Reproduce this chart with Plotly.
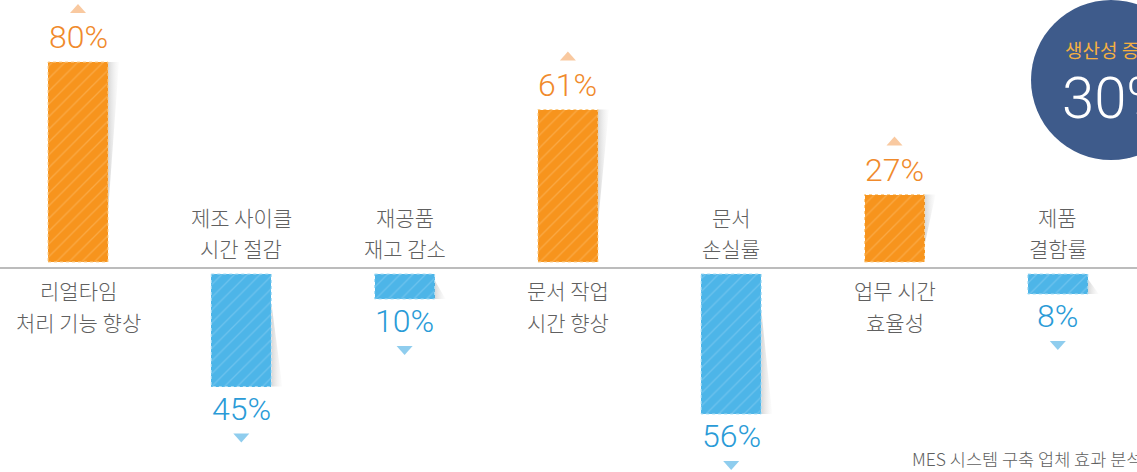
import plotly.graph_objects as go

# ---------------- data ----------------
categories = [
    "리얼타임\n처리 기능 향상",
    "제조 사이클\n시간 절감",
    "재공품\n재고 감소",
    "문서 작업\n시간 향상",
    "문서\n손실률",
    "업무 시간\n효율성",
    "제품\n결함률",
]
change_pct = [80, -45, -10, 61, -56, 27, -8]   # + = increase, - = decrease
highlight_label = "생산성 증가"
highlight_value = "30%"
source_text = "MES 시스템 구축 업체 효과 분석"

# ---------------- styles ----------------
ORANGE = "#F7941D"
ORANGE_HATCH = "#FAA944"
ORANGE_TEXT = "#F08A2C"
ORANGE_TRI = "#F9C9A0"
ORANGE_DOT = "#FCD08F"
BLUE = "#4DB5E8"
BLUE_HATCH = "#6CC2EE"
BLUE_TEXT = "#2A9BD7"
BLUE_TRI = "#8FCDEE"
BLUE_DOT = "#A7DDF5"
GREY_TEXT = "#606060"
CIRCLE = "#3E5B8B"

W, H = 1137, 472
PX_X = 163.3          # pixels per category
X0_PX = 78            # pixel of first category centre
PX_Y = 2.5            # pixels per percent
BASE_PX = 268         # pixel row of the baseline
BAR_W = 60 / PX_X
GAP = 6 / PX_Y        # gap between baseline and bar

x_range = [-X0_PX / PX_X, (W - X0_PX) / PX_X]
y_range = [-(H - BASE_PX) / PX_Y, BASE_PX / PX_Y]

xs = list(range(len(categories)))
pos = [v > 0 for v in change_pct]
bases = [GAP if p else -GAP for p in pos]
ends = [b + v for b, v in zip(bases, change_pct)]

fig = go.Figure()

# shadows (folded-paper effect) at far end of each bar
sh_w = 11 / PX_X
for x, v, b, e, p in zip(xs, change_pct, bases, ends, pos):
    xr = x + BAR_W / 2
    tail = e - 0.75 * v
    fig.add_trace(go.Scatter(
        x=[xr, xr + sh_w, xr, xr], y=[e, e, tail, e],
        mode="lines", fill="toself", line=dict(width=0),
        fillgradient=dict(type="horizontal",
                          colorscale=[[0, "rgba(120,120,120,0.30)"], [1, "rgba(200,200,200,0.04)"]]),
        hoverinfo="skip", showlegend=False))

for is_pos, col, hatch in [(True, ORANGE, ORANGE_HATCH), (False, BLUE, BLUE_HATCH)]:
    sel = [i for i, p in enumerate(pos) if p == is_pos]
    fig.add_trace(go.Bar(
        x=[xs[i] for i in sel], y=[change_pct[i] for i in sel], base=[bases[i] for i in sel],
        width=BAR_W,
        marker=dict(color=col, line=dict(width=0),
                    pattern=dict(shape="/", size=9, solidity=0.15, fgcolor=hatch,
                                 bgcolor=col, fgopacity=1, fillmode="overlay")),
        hoverinfo="skip", showlegend=False))

shapes = []
annotations = []

# baseline
shapes.append(dict(type="line", xref="paper", yref="y", x0=0, x1=1, y0=0, y1=0,
                   line=dict(color="#A6A6A6", width=1.5), layer="above"))

for x, v, b, e, p, cat in zip(xs, change_pct, bases, ends, pos, categories):
    # dotted border
    shapes.append(dict(type="rect", xref="x", yref="y", x0=x - BAR_W / 2, x1=x + BAR_W / 2,
                       y0=b, y1=e, line=dict(color=ORANGE_DOT if p else BLUE_DOT, width=1, dash="dot"),
                       layer="above"))
    # value labels
    annotations.append(dict(x=x, y=e, xref="x", yref="y", text=f"{abs(v)}%",
                            showarrow=False, yanchor="middle", yshift=25 if p else -22,
                            font=dict(family="Roboto, Noto Sans CJK KR", size=32, weight=300,
                                      color=ORANGE_TEXT if p else BLUE_TEXT)))
    # triangles
    if p:
        path = "M -8 49 L 8 49 L 0 58 Z"
    else:
        path = "M -8 -47 L 8 -47 L 0 -56 Z"
    shapes.append(dict(type="path", xref="x", yref="y", xsizemode="pixel", ysizemode="pixel",
                       xanchor=x, yanchor=e, path=path,
                       fillcolor=ORANGE_TRI if p else BLUE_TRI, line=dict(width=0)))
    # category labels
    lines = cat.split("\n")
    shifts = [-22, -54] if p else [51, 20]
    for ln, s in zip(lines, shifts):
        annotations.append(dict(x=x, y=0, xref="x", yref="y", text=ln, showarrow=False,
                                yanchor="middle", yshift=s,
                                font=dict(family="Noto Sans CJK KR", size=21, weight=300,
                                          color=GREY_TEXT)))

# highlight circle
shapes.append(dict(type="circle", xref="paper", yref="paper", xsizemode="pixel", ysizemode="pixel",
                   xanchor=1111 / W, yanchor=1 - 80 / H, x0=-80, x1=80, y0=-80, y1=80,
                   fillcolor=CIRCLE, line=dict(width=0), layer="above"))
annotations.append(dict(x=1063 / W, y=1 - 49 / H, xref="paper", yref="paper", text=highlight_label,
                        showarrow=False, xanchor="left", yanchor="middle",
                        font=dict(family="Noto Sans CJK KR", size=19, color="#F5B041")))
annotations.append(dict(x=1060 / W, y=1 - 98 / H, xref="paper", yref="paper", text=highlight_value,
                        showarrow=False, xanchor="left", yanchor="middle",
                        font=dict(family="Roboto, Noto Sans CJK KR", size=58, weight=300, color="white")))
# source
annotations.append(dict(x=910 / W, y=1 - 458 / H, xref="paper", yref="paper", text=source_text,
                        showarrow=False, xanchor="left", yanchor="middle",
                        font=dict(family="Noto Sans CJK KR", size=17.5, weight=300, color=GREY_TEXT)))

fig.update_layout(
    width=W, height=H, margin=dict(l=0, r=0, t=0, b=0),
    paper_bgcolor="white", plot_bgcolor="white",
    xaxis=dict(range=x_range, visible=False, fixedrange=True),
    yaxis=dict(range=y_range, visible=False, fixedrange=True),
    shapes=shapes, annotations=annotations, bargap=0,
)

fig.write_html("out.html", config={"displayModeBar": False},
               post_script="document.body.style.margin='0';document.body.style.overflow='hidden';")
